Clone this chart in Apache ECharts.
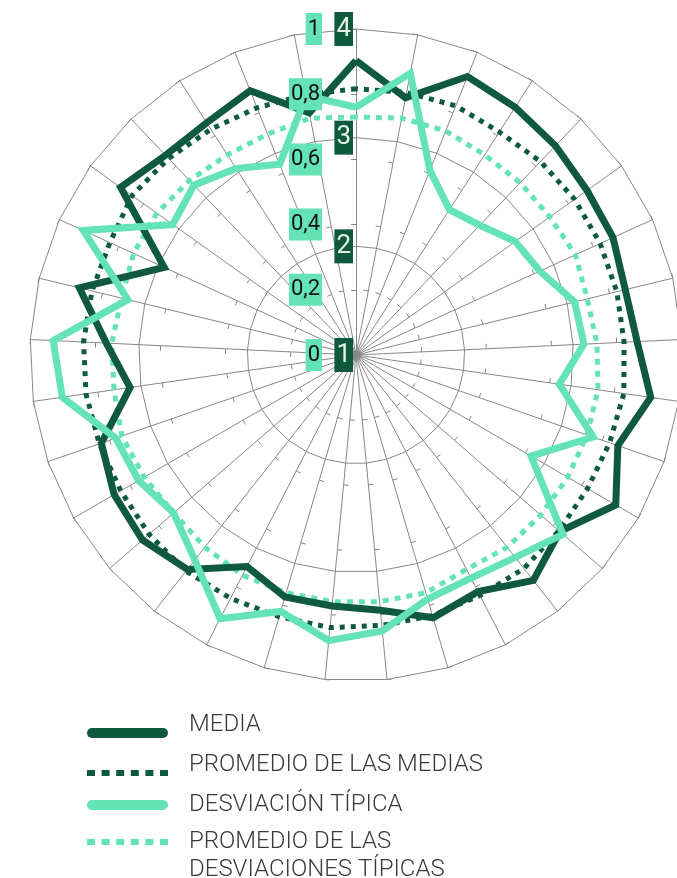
<!DOCTYPE html>
<html lang="es">
<head>
<meta charset="UTF-8">
<title>Media y desviación típica</title>
<script src="https://cdn.jsdelivr.net/npm/echarts@6/dist/echarts.min.js"></script>
<style>
    html, body { margin: 0; background: #fff; }
    #main { width: 677px; height: 878px; }
</style>
</head>
<body>
<div id="main"></div>
<script>
    var media = [3.71, 3.41, 3.76, 3.71, 3.66, 3.61, 3.60, 3.55, 3.59, 3.74, 3.55,
        3.76, 3.48, 3.64, 3.45, 3.52, 3.36, 3.32, 3.32, 3.19, 3.51, 3.60,
        3.57, 3.48, 3.10, 3.30, 3.62, 2.94, 3.66, 3.54, 3.54, 3.62, 3.27];
    var promedioMedias = [3.45, 3.46, 3.47, 3.44, 3.46, 3.47, 3.47, 3.47, 3.47, 3.49, 3.47,
        3.46, 3.47, 3.50, 3.49, 3.50, 3.50, 3.52, 3.51, 3.52, 3.53, 3.52,
        3.50, 3.50, 3.51, 3.51, 3.50, 3.49, 3.53, 3.50, 3.47, 3.45, 3.44];
    var desviacion = [0.76, 0.88, 0.61, 0.53, 0.55, 0.60, 0.62, 0.69, 0.70, 0.63, 0.77,
        0.62, 0.84, 0.79, 0.77, 0.78, 0.85, 0.88, 0.82, 0.91, 0.80, 0.74,
        0.77, 0.78, 0.91, 0.93, 0.72, 0.92, 0.69, 0.72, 0.68, 0.63, 0.81];
    var promedioDesviaciones = [0.73, 0.74, 0.74, 0.73, 0.73, 0.73, 0.74, 0.73, 0.74, 0.75, 0.75,
        0.75, 0.75, 0.75, 0.74, 0.76, 0.76, 0.76, 0.76, 0.76, 0.75, 0.74,
        0.75, 0.76, 0.75, 0.75, 0.74, 0.75, 0.75, 0.74, 0.73, 0.73, 0.74];

    var escalaMedia = [1, 4];        // min, max
    var escalaDesviacion = [0, 1];
    var nombres = ['MEDIA', 'PROMEDIO DE LAS MEDIAS', 'DESVIACIÓN TÍPICA', 'PROMEDIO DE LAS DESVIACIONES TÍPICAS'];

    var OSCURO = '#0f5a3e';
    var CLARO = '#64e3b6';
    var GRIS = '#888888';
    var N = media.length;

    // echarts reparte los ejes en sentido antihorario
    function horario(arr) {
        return arr.map(function (v, i) { return arr[(N - i) % N]; });
    }
    function coma(v) {
        return String(Math.round(v * 10) / 10).replace('.', ',');
    }
    function ejes(escala, etiqueta) {
        var out = [];
        for (var i = 0; i < N; i++) {
            var ind = { name: '', min: escala[0], max: escala[1] };
            if (i === 0 && etiqueta) ind.axisLabel = etiqueta;
            out.push(ind);
        }
        return out;
    }
    function radar(extra) {
        return Object.assign({
            center: [356, 355],
            radius: 326,
            startAngle: 90,
            shape: 'polygon',
            axisName: { show: false },
            splitArea: { show: false },
            axisLabel: { show: false },
            axisLine: { show: false },
            splitLine: { show: false },
            axisTick: { show: false }
        }, extra);
    }

    var etiquetaMedia = {
        show: true, margin: 3, color: '#e4f0ea', backgroundColor: OSCURO,
        fontFamily: 'Roboto', fontSize: 26, lineHeight: 30, padding: [2, 2, 2, 2],
        formatter: coma
    };
    var etiquetaDesv = {
        show: true, margin: 34, color: '#111', backgroundColor: CLARO,
        fontFamily: 'Roboto', fontSize: 22, lineHeight: 26, padding: [3, 2, 3, 2],
        formatter: coma
    };

    var BARRA = 'path://M5,0H76A5,5,0,0,1,76,10H5A5,5,0,0,1,5,0Z';
    var PUNTOS = 'path://M0,0h8v6h-8z M14.6,0h8v6h-8z M29.2,0h8v6h-8z M43.8,0h8v6h-8z M58.4,0h8v6h-8z M73,0h8v6h-8z';

    var letra = { fontFamily: 'Roboto', fontWeight: 300, fontSize: 24, lineHeight: 28, color: '#3a3a3a' };
    function estilo(pad) { return Object.assign({ padding: pad }, letra); }

    var leyenda = [
        { name: nombres[0], icon: BARRA, top: 713, texto: '{a|MEDIA}' },
        { name: nombres[1], icon: PUNTOS, top: 753, texto: '{c|PROMEDIO DE LAS MEDIAS}' },
        { name: nombres[2], icon: BARRA, top: 791, texto: '{d|DESVIACIÓN TÍPICA}' },
        // la línea vacía deja el primer renglón a la altura del icono
        { name: nombres[3], icon: PUNTOS, top: 800, texto: '\nPROMEDIO DE LAS\nDESVIACIONES TÍPICAS' }
    ];

    var myChart = echarts.init(document.getElementById('main'));

    var option = {
        backgroundColor: '#fff',
        animation: false,
        radar: [
            // rejilla de la escala 1-4
            radar({
                indicator: ejes(escalaMedia), splitNumber: 3,
                axisLine: { show: true, lineStyle: { color: GRIS, width: 1 } },
                splitLine: { show: true, lineStyle: { color: GRIS, width: 1 } }
            }),
            // marcas de la escala 0-1
            radar({
                indicator: ejes(escalaDesviacion), splitNumber: 5,
                axisTick: { show: true, length: 5, lineStyle: { color: GRIS, width: 1 } }
            }),
            // etiquetas encima de las líneas
            radar({ z: 20, indicator: ejes(escalaMedia, etiquetaMedia), splitNumber: 3 }),
            radar({ z: 20, indicator: ejes(escalaDesviacion, etiquetaDesv), splitNumber: 5 })
        ],
        legend: leyenda.map(function (it) {
            return {
                left: 87, top: it.top, padding: 0, orient: 'vertical',
                itemWidth: 81, itemHeight: 10, selectedMode: false,
                itemStyle: { borderWidth: 0 },
                data: [{ name: it.name, icon: it.icon }],
                formatter: function () { return it.texto; },
                textStyle: {
                    fontFamily: 'Roboto', fontWeight: 300, fontSize: 24, lineHeight: 28,
                    color: '#3a3a3a', padding: [0, 0, 0, 16],
                    rich: {
                        a: estilo([0, 0, 16, 0]),
                        c: estilo([0, 0, 16, 0]),
                        d: estilo([0, 0, 0, 0])
                    }
                }
            };
        }),
        series: [
            {
                type: 'radar', radarIndex: 0, name: nombres[1], symbol: 'none', silent: true, z: 2,
                itemStyle: { color: OSCURO },
                lineStyle: { color: OSCURO, width: 5, type: [5, 6] },
                data: [{ value: horario(promedioMedias) }]
            },
            {
                type: 'radar', radarIndex: 1, name: nombres[3], symbol: 'none', silent: true, z: 2,
                itemStyle: { color: CLARO },
                lineStyle: { color: CLARO, width: 5, type: [6, 6] },
                data: [{ value: horario(promedioDesviaciones) }]
            },
            {
                type: 'radar', radarIndex: 0, name: nombres[0], symbol: 'none', silent: true, z: 3,
                itemStyle: { color: OSCURO },
                lineStyle: { color: OSCURO, width: 7, join: 'miter' },
                data: [{ value: horario(media) }]
            },
            {
                type: 'radar', radarIndex: 1, name: nombres[2], symbol: 'none', silent: true, z: 4,
                itemStyle: { color: CLARO },
                lineStyle: { color: CLARO, width: 7, join: 'miter' },
                data: [{ value: horario(desviacion) }]
            }
        ]
    };
    myChart.setOption(option);
</script>
</body>
</html>
